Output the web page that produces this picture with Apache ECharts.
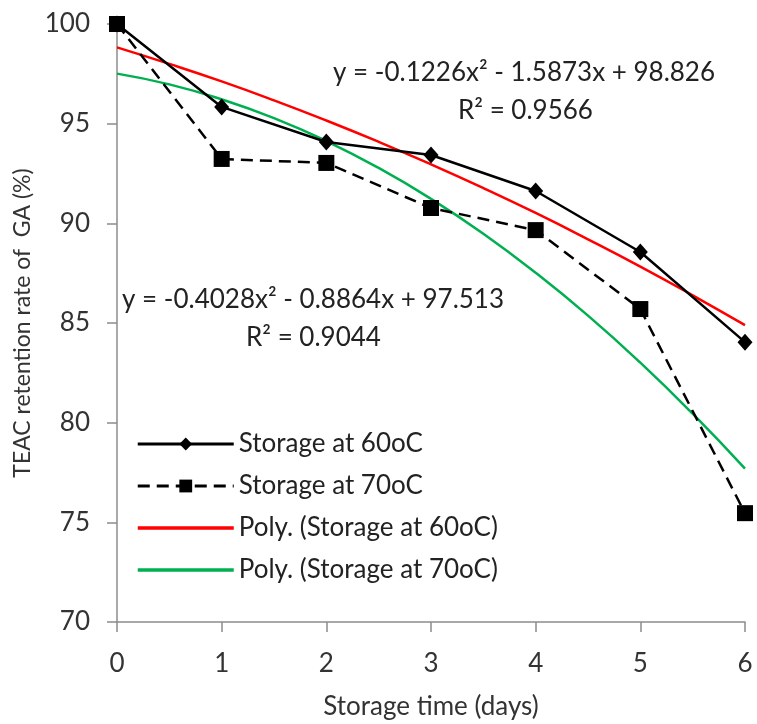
<!DOCTYPE html>
<html>
<head>
<meta charset="utf-8">
<script src="https://cdn.jsdelivr.net/npm/echarts@6/dist/echarts.min.js"></script>
<style>
html,body{margin:0;padding:0;background:#fff;}
#chart{width:757px;height:724px;}
</style>
</head>
<body>
<div id="chart"></div>
<script>
// Data
var days = [0, 1, 2, 3, 4, 5, 6];
var storage60 = [100, 95.84, 94.08, 93.43, 91.62, 88.56, 84.04];
var storage70 = [100, 93.23, 93.03, 90.77, 89.66, 85.70, 75.46];
var polyDays = [0, 0.5, 1, 1.5, 2, 2.5, 3, 3.5, 4, 4.5, 5, 5.5, 6];
var poly60 = [98.83, 98.00, 97.12, 96.17, 95.16, 94.09, 92.96, 91.77, 90.52, 89.20, 87.83, 86.39, 84.89];
var poly70 = [97.51, 96.97, 96.22, 95.28, 94.13, 92.78, 91.23, 89.48, 87.52, 85.37, 83.01, 80.45, 77.69];
var yTicks = [70, 75, 80, 85, 90, 95, 100];
var xTicks = [0, 1, 2, 3, 4, 5, 6];
var eq60 = 'y = -0.1226x² - 1.5873x + 98.826';
var r60 = 'R² = 0.9566';
var eq70 = 'y = -0.4028x² - 0.8864x + 97.513';
var r70 = 'R² = 0.9044';
var names = ['Storage at 60oC', 'Storage at 70oC', 'Poly. (Storage at 60oC)', 'Poly. (Storage at 70oC)'];

function pairs(xs, ys) { return xs.map(function (x, i) { return [x, ys[i]]; }); }

var FONT = 'Lato';
var chart = echarts.init(document.getElementById('chart'), null, {renderer: 'canvas'});
chart.setOption({
  animation: false,
  backgroundColor: '#fff',
  textStyle: {fontFamily: FONT},
  grid: {left: 117, right: 12, top: 24, bottom: 102, containLabel: false, outerBoundsMode: 'none'},
  xAxis: {
    type: 'value', min: xTicks[0], max: xTicks[xTicks.length - 1], interval: 1,
    name: 'Storage time (days)', nameLocation: 'middle', nameGap: 72,
    nameTextStyle: {fontSize: 26, color: '#333', fontFamily: FONT},
    axisLine: {lineStyle: {color: '#8c8c8c', width: 1.5}},
    axisTick: {show: true, length: 10, lineStyle: {color: '#8c8c8c', width: 1.5}},
    axisLabel: {fontSize: 26, color: '#333', margin: 29, fontFamily: FONT},
    splitLine: {show: false}
  },
  yAxis: {
    type: 'value', min: yTicks[0], max: yTicks[yTicks.length - 1], interval: 5,
    name: 'TEAC retention rate of  GA (%)', nameLocation: 'middle', nameGap: 79, nameRotate: 90,
    nameTextStyle: {fontSize: 23, color: '#333', fontFamily: FONT},
    axisLine: {show: true, lineStyle: {color: '#8c8c8c', width: 1.5}},
    axisTick: {show: true, length: 10, lineStyle: {color: '#8c8c8c', width: 1.5}},
    axisLabel: {fontSize: 26, color: '#333', margin: 27, fontFamily: FONT},
    splitLine: {show: false}
  },
  legend: {
    orient: 'vertical', left: 131, top: 425,
    itemWidth: 96, itemHeight: 16, itemGap: 14,
    textStyle: {fontSize: 26, color: '#222', lineHeight: 28, fontFamily: FONT},
    data: [
      {name: names[0], lineStyle: {width: 3}},
      {name: names[1], lineStyle: {width: 3}},
      {name: names[2], lineStyle: {width: 3.5}, itemStyle: {opacity: 0}},
      {name: names[3], lineStyle: {width: 3.5}, itemStyle: {opacity: 0}}
    ]
  },
  graphic: [
    {type: 'text', left: 333, top: 60, style: {text: eq60, font: '26px ' + FONT, fill: '#222'}},
    {type: 'text', left: 458, top: 98, style: {text: r60, font: '26px ' + FONT, fill: '#222'}},
    {type: 'text', left: 122, top: 287, style: {text: eq70, font: '26px ' + FONT, fill: '#222'}},
    {type: 'text', left: 246, top: 325, style: {text: r70, font: '26px ' + FONT, fill: '#222'}}
  ],
  series: [
    {name: names[2], type: 'line', data: pairs(polyDays, poly60), smooth: true, showSymbol: false, symbol: 'none',
     lineStyle: {color: '#ff0000', width: 2.5}, itemStyle: {color: '#ff0000'}, z: 2},
    {name: names[3], type: 'line', data: pairs(polyDays, poly70), smooth: true, showSymbol: false, symbol: 'none',
     lineStyle: {color: '#00b050', width: 2.5}, itemStyle: {color: '#00b050'}, z: 2},
    {name: names[0], type: 'line', data: pairs(days, storage60), symbol: 'diamond', symbolSize: [15, 17],
     lineStyle: {color: '#000', width: 2.5}, itemStyle: {color: '#000'}, z: 3},
    {name: names[1], type: 'line', data: pairs(days, storage70), symbol: 'rect', symbolSize: 16,
     lineStyle: {color: '#000', width: 2.5, type: [12, 7]}, itemStyle: {color: '#000'}, z: 3}
  ]
});
</script>
</body>
</html>
